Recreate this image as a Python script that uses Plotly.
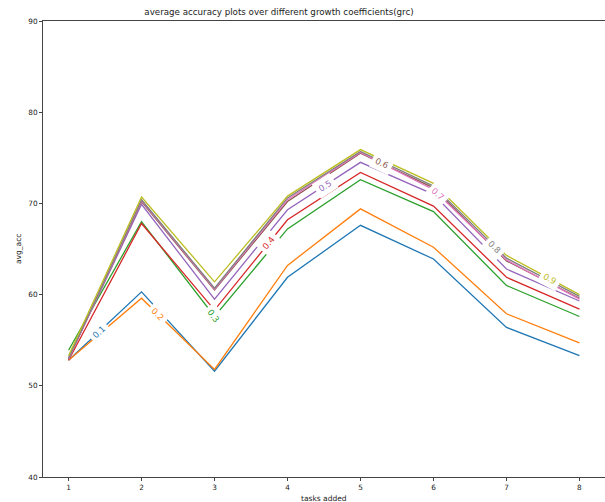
import math
import numpy as np
import plotly.graph_objects as go

# ---- data ----
tasks = [1, 2, 3, 4, 5, 6, 7, 8]
grc_labels = ["0.1", "0.2", "0.3", "0.4", "0.5", "0.6", "0.7", "0.8", "0.9"]
acc_01 = [52.8, 60.3, 51.6, 61.9, 67.6, 63.9, 56.4, 53.3]
acc_02 = [52.8, 59.6, 51.8, 63.2, 69.4, 65.2, 57.9, 54.7]
acc_03 = [53.9, 68.0, 57.6, 67.2, 72.6, 69.1, 61.0, 57.6]
acc_04 = [52.8, 67.8, 58.3, 68.2, 73.4, 69.7, 61.9, 58.4]
acc_05 = [53.0, 69.9, 59.5, 69.3, 74.5, 71.0, 62.8, 59.3]
acc_06 = [53.0, 70.2, 60.5, 70.2, 75.5, 71.7, 63.7, 59.6]
acc_07 = [52.9, 70.3, 60.6, 70.4, 75.6, 71.5, 63.8, 59.5]
acc_08 = [53.0, 70.4, 60.7, 70.6, 75.7, 71.9, 64.0, 59.8]
acc_09 = [53.3, 70.7, 61.4, 70.8, 75.9, 72.2, 64.3, 60.0]
series = [acc_01, acc_02, acc_03, acc_04, acc_05, acc_06, acc_07, acc_08, acc_09]

# inline label x positions (along each line)
label_x = [1.415, 2.22, 2.99, 3.74, 4.51, 5.29, 6.06, 6.84, 7.6]

colors = ["#1f77b4", "#ff7f0e", "#2ca02c", "#d62728", "#9467bd",
          "#8c564b", "#e377c2", "#7f7f7f", "#bcbd22"]

W, H = 605, 502
ML, MR, MT, MB = 43, 0, 21, 25
xr = [0.65, 8.35]
yr = [40, 90]
ppx = (W - ML - MR) / (xr[1] - xr[0])
ppy = (H - MT - MB) / (yr[1] - yr[0])

fig = go.Figure()
for lab, ys, c in zip(grc_labels, series, colors):
    fig.add_trace(go.Scatter(x=tasks, y=ys, mode="lines", name=lab,
                             line=dict(color=c, width=1.3), showlegend=False))

annotations = []
for lab, ys, c, lx in zip(grc_labels, series, colors, label_x):
    ly = float(np.interp(lx, tasks, ys))
    i = min(max(int(math.floor(lx)) - 1, 0), len(tasks) - 2)
    dv = ys[i + 1] - ys[i]
    ang = math.degrees(math.atan2(-dv * ppy, ppx))
    annotations.append(dict(x=lx, y=ly, xref="x", yref="y", text=lab,
                            showarrow=False, textangle=ang,
                            font=dict(family="DejaVu Sans", size=8.5, color=c),
                            bgcolor="white", borderpad=3, opacity=1))

annotations.append(dict(x=0.5, y=0, xref="paper", yref="paper", text="tasks added",
                        showarrow=False, yanchor="top", yshift=-15,
                        font=dict(family="DejaVu Sans", size=7.5, color="#222")))
annotations.append(dict(x=0, y=0.5, xref="paper", yref="paper", text="avg_acc",
                        showarrow=False, xanchor="center", xshift=-25, textangle=-90,
                        font=dict(family="DejaVu Sans", size=7.5, color="#222")))

fig.update_layout(
    width=W, height=H,
    margin=dict(l=ML, r=MR, t=MT, b=MB, pad=0),
    paper_bgcolor="white", plot_bgcolor="white",
    title=dict(text="average accuracy plots over different growth coefficients(grc)",
               x=279 / W, xref="container", xanchor="center",
               y=1 - 12 / H, yref="container", yanchor="middle",
               font=dict(family="DejaVu Sans", size=8.7, color="#222")),
    annotations=annotations,
    xaxis=dict(range=xr, tickvals=tasks, ticktext=[str(t) for t in tasks],
               showgrid=False, zeroline=False, showline=True, linecolor="#444",
               linewidth=1, mirror=True, ticks="outside", ticklen=3, tickcolor="#444",
               tickfont=dict(family="DejaVu Sans", size=7.3, color="#222")),
    yaxis=dict(range=yr, tickvals=[40, 50, 60, 70, 80, 90],
               showgrid=False, zeroline=False, showline=True, linecolor="#444",
               linewidth=1, ticks="outside", ticklen=3, tickcolor="#444",
               tickfont=dict(family="DejaVu Sans", size=7.3, color="#222")),
)

fig.write_html("out.html")
